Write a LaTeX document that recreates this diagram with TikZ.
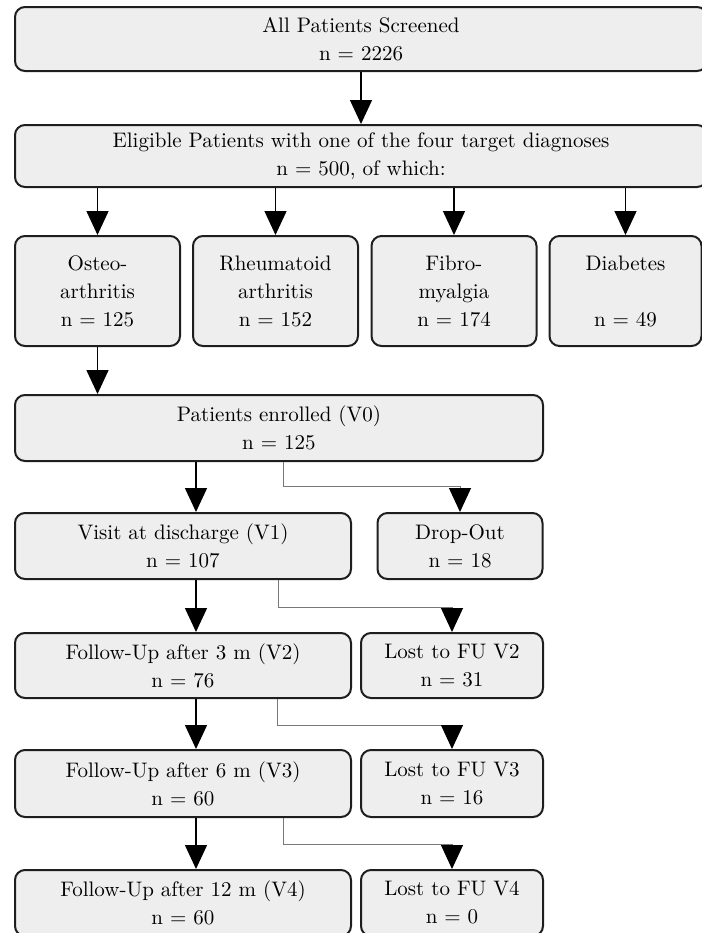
\documentclass[tikz,border=0pt]{standalone}
\usepackage{xcolor}
\usepackage{tikz}
\usetikzlibrary{arrows.meta,positioning}
\definecolor{fbline}{RGB}{30,30,30}
\definecolor{fbfill}{RGB}{238,238,238}
\definecolor{fbgrey}{RGB}{120,120,120}

\tikzset{
  fbbox/.style={draw=fbline,fill=fbfill,line width=1pt,rounded corners=5pt,
    align=center,inner sep=0pt,font=\fontsize{10.5}{14}\selectfont},
  mainarr/.style={line width=0.7pt,-{Triangle[width=11pt,length=12pt]}},
  sidearr/.style={fbgrey,line width=0.5pt,
    -{Triangle[width=11pt,length=12pt,color=black]}}
}

\begin{document}
\begin{tikzpicture}[x=0.5pt,y=-0.5pt]

\clip (0,0) rectangle (702,933);

\node[fbbox,minimum width=346pt,minimum height=32pt]
(screen) at (361,39) {All Patients Screened\\n = 2226};

\node[fbbox,minimum width=346pt,minimum height=31pt]
(elig) at (361,156) {Eligible Patients with one of the four target diagnoses\\n = 500, of which:};

\node[fbbox,minimum width=82.5pt,minimum height=55pt]
(oa) at (97.5,291) {Osteo-\\arthritis\\n = 125};

\node[fbbox,minimum width=82.5pt,minimum height=55pt]
(ra) at (275.5,291) {Rheumatoid\\arthritis\\n = 152};

\node[fbbox,minimum width=82.5pt,minimum height=55pt]
(fm) at (454,291) {Fibro-\\myalgia\\n = 174};

\node[fbbox,minimum width=76pt,minimum height=55pt]
(db) at (625.5,291) {Diabetes\\~\\n = 49};

\node[fbbox,minimum width=264pt,minimum height=33pt]
(enr) at (279,428) {Patients enrolled (V0)\\n = 125};

\node[fbbox,minimum width=168pt,minimum height=33pt]
(v1) at (183,546) {Visit at discharge (V1)\\n = 107};

\node[fbbox,minimum width=82.5pt,minimum height=33pt]
(drop) at (460,546) {Drop-Out\\n = 18};

\node[fbbox,minimum width=168pt,minimum height=32.5pt]
(v2) at (183,665.5) {Follow-Up after 3 m (V2)\\n = 76};

\node[fbbox,minimum width=91pt,minimum height=32.5pt]
(lost2) at (452,665.5) {Lost to FU V2\\n = 31};

\node[fbbox,minimum width=168pt,minimum height=33.5pt]
(v3) at (183,783.5) {Follow-Up after 6 m (V3)\\n = 60};

\node[fbbox,minimum width=91pt,minimum height=33.5pt]
(lost3) at (452,783.5) {Lost to FU V3\\n = 16};

\node[fbbox,minimum width=168pt,minimum height=33pt]
(v4) at (183,903) {Follow-Up after 12 m (V4)\\n = 60};

\node[fbbox,minimum width=91pt,minimum height=33pt]
(lost4) at (452,903) {Lost to FU V4\\n = 0};

\coordinate (spine) at (196,0);

% screening and diagnoses
\draw[mainarr] (screen) -- (elig);
\foreach \d in {oa,ra,fm,db}
    \draw[mainarr] (elig.south -| \d.north) -- (\d.north);
\draw[mainarr] (oa) -- (oa |- enr.north);

% visits
\draw[mainarr] (enr.south -| spine) -- (v1.north -| spine);
\draw[mainarr] (v1.south -| spine) -- (v2.north -| spine);
\draw[mainarr] (v2.south -| spine) -- (v3.north -| spine);
\draw[mainarr] (v3.south -| spine) -- (v4.north -| spine);

% drop-outs
\draw[sidearr] ([xshift=2pt]enr.south) -- ++(0,24) -| (drop.north);
\draw[sidearr] ([xshift=47.75pt]v1.south) -- ++(0,27) -| (lost2.north);
\draw[sidearr] ([xshift=47.3pt]v2.south) -- ++(0,26) -| (lost3.north);
\draw[sidearr] ([xshift=50pt]v3.south) -- ++(0,26) -| (lost4.north);

\end{tikzpicture}
\end{document}
